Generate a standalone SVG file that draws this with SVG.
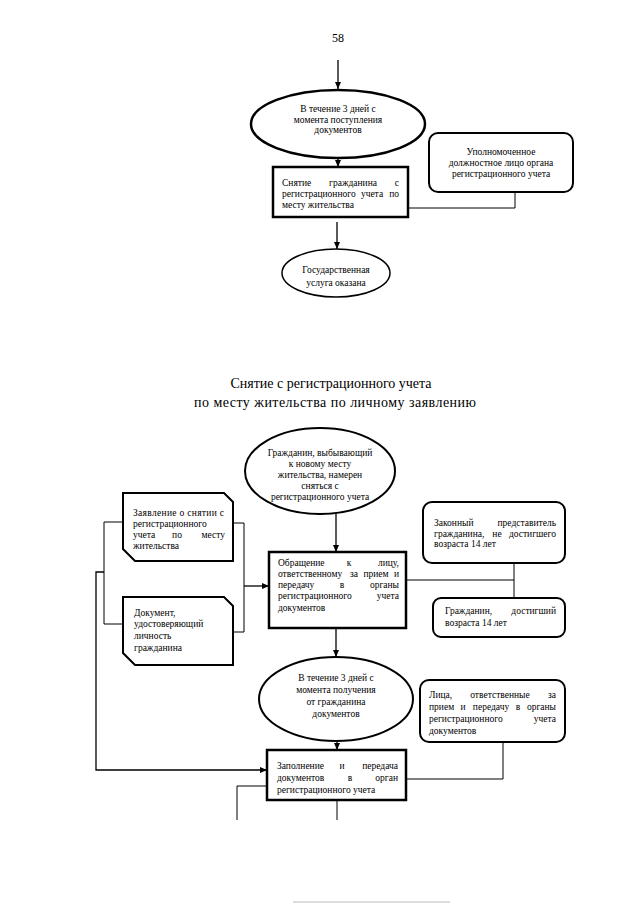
<svg xmlns="http://www.w3.org/2000/svg" width="640" height="905" viewBox="0 0 640 905">
<style>
.t{font-family:"Liberation Serif","Times New Roman",serif;font-size:9.5px;fill:#000}
.c{text-anchor:middle}
.e{text-anchor:end}
.title{font-family:"Liberation Serif","Times New Roman",serif;font-size:14px;fill:#000;text-anchor:middle}
.box{fill:#fff;stroke:#000;stroke-width:2.5}
.shape{fill:#fff;stroke:#000;stroke-width:2}
.conn{fill:none;stroke:#000;stroke-width:1}
.arr{fill:none;stroke:#000;stroke-width:1.3;marker-end:url(#ah)}
</style>
<defs>
<marker id="ah" markerWidth="7" markerHeight="6" refX="7" refY="3" orient="auto" markerUnits="userSpaceOnUse">
<path d="M0,0 L7,3 L0,6 Z" fill="#000"/>
</marker>
</defs>
<rect width="640" height="905" fill="#fff"/>

<text class="t c" x="338" y="42" style="font-size:12px">58</text>

<g id="connectors">
<line class="arr" x1="338" y1="60" x2="338" y2="89"/>
<line class="arr" x1="338" y1="158" x2="338" y2="167"/>
<polyline class="conn" points="408,208 515,208 515,192"/>
<line class="arr" x1="337" y1="222" x2="337" y2="249"/>
<line class="arr" x1="336" y1="514" x2="336" y2="552"/>
<polyline class="conn" points="123,522 104,522 104,624 123,624"/>
<polyline class="arr" points="104,572 96,572 96,770 267,770"/>
<polyline class="conn" points="233,523 244,523 244,632 233,632"/>
<line class="arr" x1="244" y1="586" x2="269" y2="586"/>
<line class="conn" x1="406" y1="580" x2="514" y2="580"/>
<line class="conn" x1="514" y1="563" x2="514" y2="598"/>
<line class="arr" x1="336" y1="628" x2="336" y2="657"/>
<line class="arr" x1="337" y1="741" x2="337" y2="750"/>
<polyline class="conn" points="406,779 503,779 503,742"/>
<polyline class="conn" points="267,786 237,786 237,820"/>
<line class="conn" x1="337" y1="800" x2="337" y2="820"/>
<line x1="293" y1="902" x2="450" y2="902" stroke="#bbb" stroke-width="1"/>
</g>

<g id="n_term1">
<ellipse cx="338" cy="124" rx="87" ry="34" fill="#fff" stroke="#000" stroke-width="2.5"/>
<text class="t c" x="338" y="111.5">В течение 3 дней с</text>
<text class="t c" x="338" y="122.5">момента поступления</text>
<text class="t c" x="338" y="133">документов</text>
</g>

<g id="n_removal">
<rect class="box" x="273" y="167" width="135" height="50"/>
<text class="t" x="282" y="186">Снятие</text><text class="t c" x="353" y="186">гражданина</text><text class="t e" x="399" y="186">с</text>
<text class="t" x="282" y="197">регистрационного</text><text class="t c" x="372" y="197">учета</text><text class="t e" x="399" y="197">по</text>
<text class="t" x="282" y="208">месту жительства</text>
</g>

<g id="n_official">
<rect class="shape" x="429" y="133" width="144" height="59" rx="9"/>
<text class="t c" x="501" y="154.5">Уполномоченное</text>
<text class="t c" x="501" y="166">должностное лицо органа</text>
<text class="t c" x="501" y="177">регистрационного учета</text>
</g>

<g id="n_done">
<ellipse cx="336" cy="273" rx="54" ry="24" fill="#fff" stroke="#000" stroke-width="1.5"/>
<text class="t c" x="336" y="273">Государственная</text>
<text class="t c" x="336" y="286">услуга оказана</text>
</g>

<text class="title" x="331" y="388">Снятие с регистрационного учета</text>
<text class="title" x="335" y="407" textLength="282" lengthAdjust="spacing">по месту жительства по личному заявлению</text>

<g id="n_citizen">
<ellipse cx="320" cy="471" rx="75" ry="43" fill="#fff" stroke="#000" stroke-width="2"/>
<text class="t c" x="320" y="456">Гражданин, выбывающий</text>
<text class="t c" x="320" y="467">к новому месту</text>
<text class="t c" x="320" y="478">жительства, намерен</text>
<text class="t c" x="320" y="489">сняться с</text>
<text class="t c" x="320" y="500">регистрационного учета</text>
</g>

<g id="n_application">
<path class="shape" d="M123,493 H224 L233,502 V561 H135 L123,549 Z"/>
<text class="t" x="133" y="516" textLength="91" lengthAdjust="spacing">Заявление о снятии с</text>
<text class="t" x="133" y="527">регистрационного</text>
<text class="t" x="133" y="538">учета</text><text class="t c" x="177" y="538">по</text><text class="t e" x="225" y="538">месту</text>
<text class="t" x="133" y="549">жительства</text>
</g>

<g id="n_document">
<path class="shape" d="M123,597 H224 L233,606 V665 H135 L123,653 Z"/>
<text class="t" x="134" y="616">Документ,</text>
<text class="t" x="134" y="627">удостоверяющий</text>
<text class="t" x="134" y="639">личность</text>
<text class="t" x="134" y="651">гражданина</text>
</g>

<g id="n_appeal">
<rect class="box" x="269" y="552" width="137" height="76"/>
<text class="t" x="278" y="566">Обращение</text><text class="t c" x="349" y="566">к</text><text class="t e" x="399" y="566">лицу,</text>
<text class="t" x="278" y="577">ответственному</text><text class="t c" x="354" y="577">за</text><text class="t c" x="376" y="577">прием</text><text class="t e" x="399" y="577">и</text>
<text class="t" x="278" y="588">передачу</text><text class="t c" x="342" y="588">в</text><text class="t e" x="399" y="588">органы</text>
<text class="t" x="278" y="599">регистрационного</text><text class="t e" x="399" y="599">учета</text>
<text class="t" x="278" y="611">документов</text>
</g>

<g id="n_legalrep">
<rect class="shape" x="423" y="502" width="142" height="61" rx="9"/>
<text class="t" x="434" y="526">Законный</text><text class="t e" x="556" y="526">представитель</text>
<text class="t" x="434" y="536.5">гражданина,</text><text class="t c" x="497" y="536.5">не</text><text class="t e" x="556" y="536.5">достигшего</text>
<text class="t" x="434" y="547">возраста 14 лет</text>
</g>

<g id="n_adult">
<rect class="shape" x="433" y="598" width="132" height="39" rx="8"/>
<text class="t" x="445" y="614">Гражданин,</text><text class="t e" x="556" y="614">достигший</text>
<text class="t" x="445" y="626">возраста 14 лет</text>
</g>

<g id="n_term2">
<ellipse cx="336" cy="699" rx="77" ry="42" fill="#fff" stroke="#000" stroke-width="2"/>
<text class="t c" x="336" y="681">В течение 3 дней с</text>
<text class="t c" x="336" y="693">момента получения</text>
<text class="t c" x="336" y="705">от гражданина</text>
<text class="t c" x="336" y="717">документов</text>
</g>

<g id="n_responsible">
<rect class="shape" x="420" y="680" width="145" height="62" rx="9"/>
<text class="t" x="429" y="698">Лица,</text><text class="t c" x="500" y="698">ответственные</text><text class="t e" x="556" y="698">за</text>
<text class="t" x="429" y="710">прием</text><text class="t c" x="463" y="710">и</text><text class="t c" x="491" y="710">передачу</text><text class="t c" x="518" y="710">в</text><text class="t e" x="556" y="710">органы</text>
<text class="t" x="429" y="722">регистрационного</text><text class="t e" x="556" y="722">учета</text>
<text class="t" x="429" y="734">документов</text>
</g>

<g id="n_fill">
<rect class="box" x="267" y="750" width="139" height="50"/>
<text class="t" x="277" y="769">Заполнение</text><text class="t c" x="342" y="769">и</text><text class="t e" x="398" y="769">передача</text>
<text class="t" x="277" y="781">документов</text><text class="t c" x="350" y="781">в</text><text class="t e" x="398" y="781">орган</text>
<text class="t" x="277" y="793">регистрационного учета</text>
</g>
</svg>
